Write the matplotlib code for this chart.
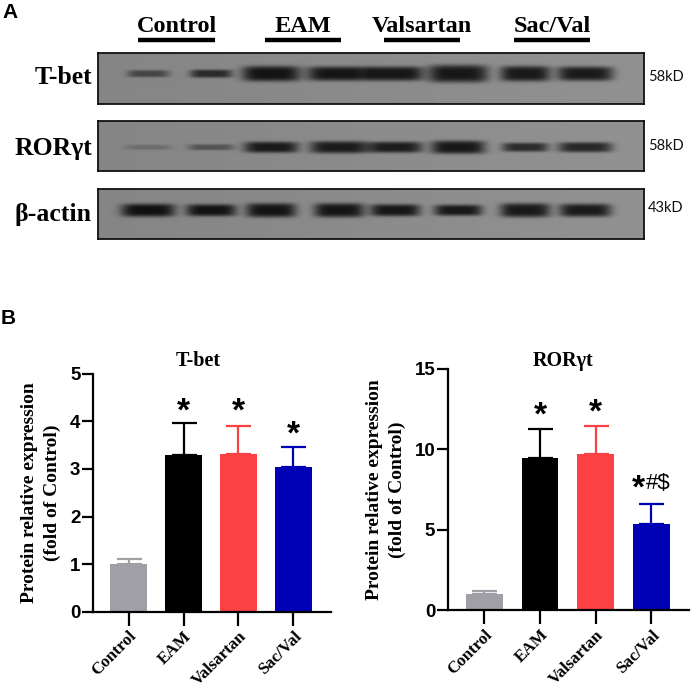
import numpy as np
import matplotlib
matplotlib.use("Agg")
import matplotlib.pyplot as plt

W, H = 692, 691

groups = ['Control', 'EAM', 'Valsartan', 'Sac/Val']
bar_colors = ['#a09fa5', '#000000', '#fb4143', '#0000b4']

# panel B values
tbet_mean = [1.0, 3.3, 3.32, 3.05]
tbet_err = [0.1, 0.67, 0.59, 0.42]
tbet_marks = ['', '*', '*', '*']
tbet_mark_y = [0, 4.2, 4.2, 3.72]

ror_mean = [1.0, 9.45, 9.72, 5.35]
ror_err = [0.2, 1.83, 1.72, 1.25]
ror_marks = ['', '*', '*', '*#$']
ror_mark_y = [0, 12.05, 12.25, 7.55]

# panel A band strengths, eight lanes per blot
lane_x = [148, 211, 271, 339, 395, 458, 525, 585]
tbet_band = [0.55, 0.8, 1.0, 1.0, 1.0, 1.0, 1.0, 1.0]
tbet_band_w = [42, 42, 58, 64, 56, 60, 50, 56]
tbet_band_h = [7, 8, 15, 14, 14, 17, 15, 14]
ror_band = [0.22, 0.45, 0.95, 0.95, 0.95, 1.0, 0.85, 0.9]
ror_band_w = [46, 46, 54, 58, 54, 54, 46, 54]
ror_band_h = [5, 6, 11, 12, 11, 13, 9, 10]
actin_band = [1.0, 1.0, 1.0, 1.0, 1.0, 1.0, 1.0, 1.0]
actin_band_w = [54, 50, 50, 50, 50, 48, 50, 52]
actin_band_h = [13, 12, 14, 14, 12, 11, 14, 13]
marker_kd = ['58kD', '58kD', '43kD']
blot_names = ['T-bet', 'ROR\u03b3t', '\u03b2-actin']


def px_axes(fig, left, top, right, bottom):
    return fig.add_axes([left / W, 1 - bottom / H, (right - left) / W, (bottom - top) / H])


def draw_blot(fig, top, bottom, centre, strength, widths, heights):
    left, right = 98, 644
    ax = px_axes(fig, left, top, right, bottom)
    xx, yy = np.meshgrid(np.arange(left, right, 0.5), np.arange(top, bottom, 0.5))
    # film background, slightly lighter towards the right
    img = 0.52 + 0.05 * (xx - left) / (right - left)
    for x0, s, w, h in zip(lane_x, strength, widths, heights):
        d = np.abs((xx - x0) / (w / 2)) ** 5 + np.abs((yy - centre) / (h / 2)) ** 4
        img = img - s * 0.46 * np.exp(-d)
    ax.imshow(img, cmap='gray', vmin=0, vmax=1, aspect='auto',
              extent=[left, right, bottom, top], interpolation='bilinear')
    ax.set_xticks([])
    ax.set_yticks([])
    for sp in ax.spines.values():
        sp.set_linewidth(1.3)
        sp.set_color('#111111')
    return ax


def draw_bars(fig, box, centers, mean, err, ymax, yticks, marks, mark_y, title, title_x, ylab_x):
    left, top, right, bottom = box
    ax = px_axes(fig, left, top, right, bottom)
    # x axis in pixels so the bars land on the same spots
    ax.set_xlim(left, right)
    ax.set_ylim(0, ymax)
    ax.bar(centers, mean, width=36.5, color=bar_colors, zorder=2)
    for x, m, e, c in zip(centers, mean, err, bar_colors):
        ax.errorbar(x, m, yerr=[[0], [e]], color=c, capsize=9, capthick=1.6,
                    elinewidth=1.6, zorder=1)
    for x, s, y in zip(centers, marks, mark_y):
        if s == '*':
            ax.text(x, y, s, ha='center', va='center', fontsize=24, fontweight='bold',
                    family='Liberation Sans', color='black')
        elif s:
            ax.text(x - 13, y, '*', ha='center', va='center', fontsize=24, fontweight='bold',
                    family='Liberation Sans', color='black')
            ax.text(x - 5, y + 0.3, s[1:], ha='left', va='center', fontsize=16,
                    family='Liberation Sans', color='black')
    ax.spines['top'].set_visible(False)
    ax.spines['right'].set_visible(False)
    ax.spines['left'].set_linewidth(1.6)
    ax.spines['bottom'].set_linewidth(1.6)
    ax.set_yticks(yticks)
    ax.set_yticklabels([str(t) for t in yticks], fontsize=13.5, fontweight='bold',
                       family='Liberation Sans')
    ax.tick_params(axis='y', length=8, width=1.6, pad=1)
    ax.tick_params(axis='x', length=10, width=1.6, pad=2)
    ax.set_xticks(centers)
    ax.set_xticklabels(groups, rotation=45, ha='right', rotation_mode='anchor',
                       fontsize=12.2, fontweight='bold', family='Liberation Serif')
    fig.text(title_x / W, 1 - 361 / H, title, ha='center', va='center', fontsize=14.5,
             fontweight='bold', family='Liberation Serif')
    fig.text(ylab_x / W, 1 - (bottom + top) / 2 / H,
             'Protein relative expression\n(fold of Control)', rotation=90, ha='center',
             va='center', ma='center', fontsize=14, fontweight='bold',
             family='Liberation Serif', linespacing=1.5)
    return ax


fig = plt.figure(figsize=(W / 100, H / 100), dpi=100)

# panel letters
fig.text(2 / W, 1 - 12 / H, 'A', fontsize=15, fontweight='bold', family='Liberation Sans', va='center')
fig.text(1 / W, 1 - 319 / H, 'B', fontsize=15, fontweight='bold', family='Liberation Sans', va='center')

# group headers with thick underlines
header_x = [177, 303, 422, 552]
line_x = [(138, 215), (265, 341), (384, 460), (514, 590)]
for name, x, (x0, x1) in zip(groups, header_x, line_x):
    fig.text(x / W, 1 - 26 / H, name, ha='center', va='center', fontsize=17.5,
             fontweight='bold', family='Liberation Serif')
    fig.add_artist(plt.Line2D([x0 / W, x1 / W], [1 - 39.5 / H] * 2, color='black', lw=3.2,
                              solid_capstyle='butt'))

draw_blot(fig, 53, 104, 74, tbet_band, tbet_band_w, tbet_band_h)
draw_blot(fig, 121, 171, 147, ror_band, ror_band_w, ror_band_h)
draw_blot(fig, 189, 239, 210, actin_band, actin_band_w, actin_band_h)

for name, kd, y, ky in zip(blot_names, marker_kd, [78, 148, 215], [77, 146, 208]):
    fig.text(92 / W, 1 - y / H, name, ha='right', va='center', fontsize=18.5,
             fontweight='bold', family='Liberation Serif')
    fig.text(648 / W, 1 - ky / H, kd, ha='left', va='center', fontsize=10.5,
             family='Lato', color='#111111')

draw_bars(fig, (93, 373.7, 331, 611.7), [128.7, 183.7, 238.3, 293.3], tbet_mean, tbet_err,
          5, [0, 1, 2, 3, 4, 5], tbet_marks, tbet_mark_y, 'T-bet', 198, 41)
draw_bars(fig, (447.7, 368.7, 689, 610.3), [484.3, 540, 595.7, 651.3], ror_mean, ror_err,
          15, [0, 5, 10, 15], ror_marks, ror_mark_y, 'ROR\u03b3t', 563, 386)

fig.savefig('out.png', dpi=100)
